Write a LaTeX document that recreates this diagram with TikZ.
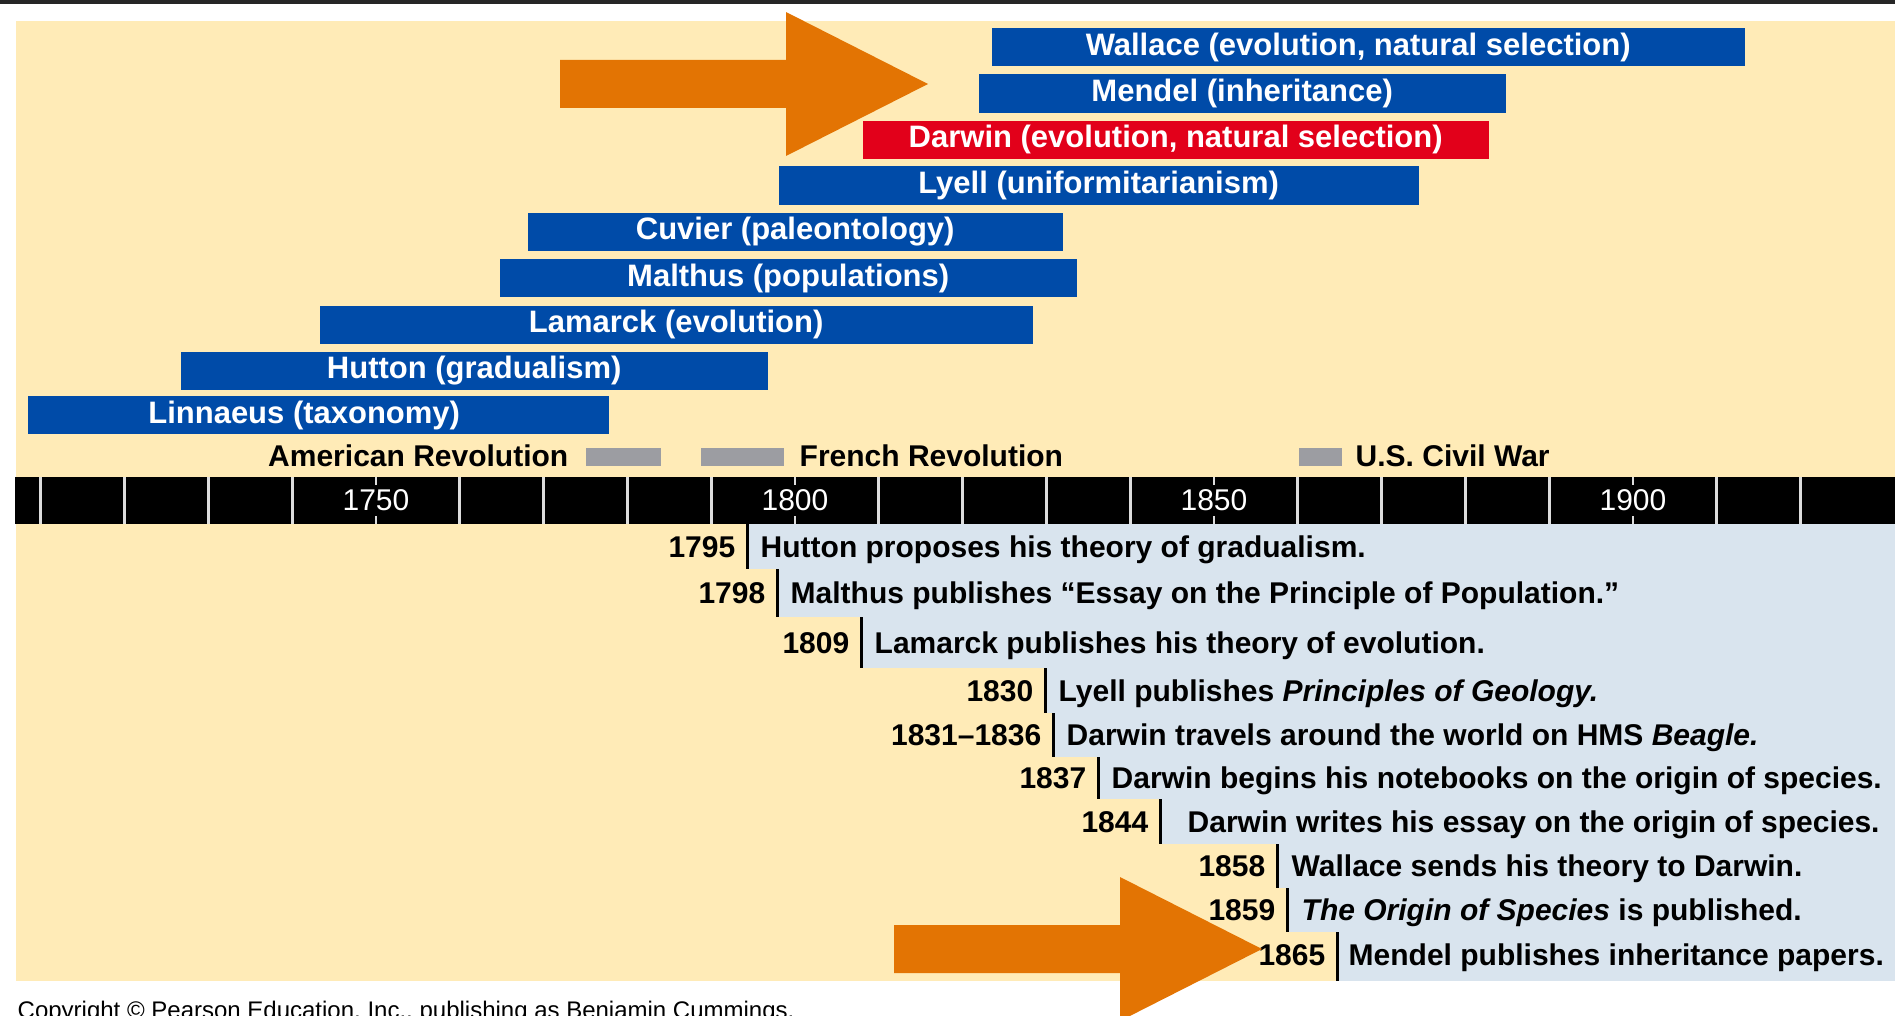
\documentclass[tikz,border=0pt]{standalone}
\usepackage{fontspec}
\setmainfont{Liberation Sans}
\usepackage{xcolor}
\usepackage{tikz}
\definecolor{creambg}{HTML}{FFEBB7}
\definecolor{barblue}{HTML}{004BA8}
\definecolor{barred}{HTML}{E2001A}
\definecolor{noteblue}{HTML}{D9E4EE}
\definecolor{wargray}{HTML}{9C9DA2}
\definecolor{arroworange}{HTML}{E37403}
\definecolor{tickgray}{HTML}{DDDDDD}
\definecolor{topline}{HTML}{262626}

\tikzset{
  lifebar/.style={rectangle, anchor=west, minimum height=0.38cm, inner sep=0pt, fill=barblue, text=white, font=\fontsize{0.31cm}{0.37cm}\selectfont\bfseries},
  warbar/.style={rectangle, anchor=west, minimum height=0.18cm, inner sep=0pt, fill=wargray},
  eventlabel/.style={inner sep=0pt, font=\fontsize{0.30cm}{0.36cm}\selectfont\bfseries},
  scalelabel/.style={inner sep=0pt, text=white, font=\fontsize{0.30cm}{0.36cm}\selectfont},
  decade/.style={draw=tickgray, line width=0.03cm},
  notebox/.style={fill=noteblue},
  stem/.style={draw=black, line width=0.03cm},
  yearlabel/.style={anchor=base east, inner sep=0pt, font=\fontsize{0.30cm}{0.36cm}\selectfont\bfseries},
  notelabel/.style={anchor=base west, inner sep=0pt, font=\fontsize{0.30cm}{0.36cm}\selectfont\bfseries}
}

\newcommand{\fatarrow}[1]{%
  \fill[arroworange] (#1) -- ++(-1.42,0.72) -- ++(0,-0.48) -- ++(-2.26,0) -- ++(0,-0.48) -- ++(2.26,0) -- ++(0,-0.48) -- cycle;}

\begin{document}
\begin{tikzpicture}%
\useasboundingbox (0,0) rectangle (18.95,-10.16);%
\fill[topline] (0,0) rectangle (18.95,-0.035);%
\fill[creambg] (0.16,-0.21) rectangle (18.95,-9.81);%
% life spans
\node[lifebar, minimum width=7.53cm] (wallace) at (9.91,-0.47) {Wallace (evolution, natural selection)\kern0.2cm};%
\node[lifebar, minimum width=5.27cm] (mendel) at (9.78,-0.935) {Mendel (inheritance)};%
\node[lifebar, minimum width=6.26cm, fill=barred] (darwin) at (8.62,-1.395) {Darwin (evolution, natural selection)};%
\node[lifebar, minimum width=6.40cm] (lyell) at (7.78,-1.855) {Lyell (uniformitarianism)};%
\node[lifebar, minimum width=5.35cm] (cuvier) at (5.27,-2.315) {Cuvier (paleontology)};%
\node[lifebar, minimum width=5.77cm] (malthus) at (4.99,-2.78) {Malthus (populations)};%
\node[lifebar, minimum width=7.13cm] (lamarck) at (3.19,-3.245) {Lamarck (evolution)};%
\node[lifebar, minimum width=5.87cm] (hutton) at (1.80,-3.705) {Hutton (gradualism)};%
\node[lifebar, minimum width=5.81cm] (linnaeus) at (0.27,-4.15) {Linnaeus (taxonomy)\kern0.28cm};%
% wars and revolutions
\node[warbar, minimum width=0.75cm] (amrevbar) at (5.85,-4.57) {};%
\node[warbar, minimum width=0.83cm] (frrevbar) at (7.00,-4.57) {};%
\node[warbar, minimum width=0.43cm] (civilbar) at (12.98,-4.57) {};%
\node[eventlabel, anchor=base east] (amrev) at (5.69,-4.66) {American Revolution};%
\node[eventlabel, anchor=base west] (frrev) at (7.99,-4.66) {French Revolution};%
\node[eventlabel, anchor=base west] (civil) at (13.55,-4.66) {U.S. Civil War};%
% time scale
\fill[black] (0.15,-4.77) rectangle (18.95,-5.24);%
\draw[decade] (0.408,-4.77) -- (0.408,-5.24);%
\draw[decade] (1.246,-4.77) -- (1.246,-5.24);%
\draw[decade] (2.084,-4.77) -- (2.084,-5.24);%
\draw[decade] (2.922,-4.77) -- (2.922,-5.24);%
\draw[decade] (4.598,-4.77) -- (4.598,-5.24);%
\draw[decade] (5.436,-4.77) -- (5.436,-5.24);%
\draw[decade] (6.274,-4.77) -- (6.274,-5.24);%
\draw[decade] (7.112,-4.77) -- (7.112,-5.24);%
\draw[decade] (8.788,-4.77) -- (8.788,-5.24);%
\draw[decade] (9.626,-4.77) -- (9.626,-5.24);%
\draw[decade] (10.464,-4.77) -- (10.464,-5.24);%
\draw[decade] (11.302,-4.77) -- (11.302,-5.24);%
\draw[decade] (12.978,-4.77) -- (12.978,-5.24);%
\draw[decade] (13.816,-4.77) -- (13.816,-5.24);%
\draw[decade] (14.654,-4.77) -- (14.654,-5.24);%
\draw[decade] (15.492,-4.77) -- (15.492,-5.24);%
\draw[decade] (17.168,-4.77) -- (17.168,-5.24);%
\draw[decade] (18.006,-4.77) -- (18.006,-5.24);%
\draw[decade, line width=0.02cm] (3.76,-4.77) -- (3.76,-4.85) (3.76,-5.16) -- (3.76,-5.24);%
\draw[decade, line width=0.02cm] (7.95,-4.77) -- (7.95,-4.85) (7.95,-5.16) -- (7.95,-5.24);%
\draw[decade, line width=0.02cm] (12.14,-4.77) -- (12.14,-4.85) (12.14,-5.16) -- (12.14,-5.24);%
\draw[decade, line width=0.02cm] (16.33,-4.77) -- (16.33,-4.85) (16.33,-5.16) -- (16.33,-5.24);%
\node[scalelabel] (s1750) at (3.76,-5.005) {1750};%
\node[scalelabel] (s1800) at (7.95,-5.005) {1800};%
\node[scalelabel] (s1850) at (12.14,-5.005) {1850};%
\node[scalelabel] (s1900) at (16.33,-5.005) {1900};%
% dated notes
\fill[notebox] (7.47,-5.24) rectangle (18.95,-5.69);%
\fill[notebox] (7.77,-5.69) rectangle (18.95,-6.17);%
\fill[notebox] (8.61,-6.17) rectangle (18.95,-6.68);%
\fill[notebox] (10.45,-6.68) rectangle (18.95,-7.13);%
\fill[notebox] (10.53,-7.13) rectangle (18.95,-7.57);%
\fill[notebox] (10.98,-7.57) rectangle (18.95,-7.99);%
\fill[notebox] (11.60,-7.99) rectangle (18.95,-8.44);%
\fill[notebox] (12.77,-8.44) rectangle (18.95,-8.88);%
\fill[notebox] (12.87,-8.88) rectangle (18.95,-9.32);%
\fill[notebox] (13.37,-9.32) rectangle (18.95,-9.81);%
\draw[stem] (7.47,-5.24) -- (7.47,-5.69);%
\draw[stem] (7.77,-5.69) -- (7.77,-6.17);%
\draw[stem] (8.61,-6.17) -- (8.61,-6.68);%
\draw[stem] (10.45,-6.68) -- (10.45,-7.13);%
\draw[stem] (10.53,-7.13) -- (10.53,-7.57);%
\draw[stem] (10.98,-7.57) -- (10.98,-7.99);%
\draw[stem] (11.60,-7.99) -- (11.60,-8.44);%
\draw[stem] (12.77,-8.44) -- (12.77,-8.88);%
\draw[stem] (12.87,-8.88) -- (12.87,-9.32);%
\draw[stem] (13.37,-9.32) -- (13.37,-9.81);%
\node[yearlabel] (y1795) at (7.36,-5.57) {1795};%
\node[notelabel] (n1795) at (7.60,-5.57) {Hutton proposes his theory of gradualism.};%
\node[yearlabel] (y1798) at (7.66,-6.035) {1798};%
\node[notelabel] (n1798) at (7.90,-6.035) {Malthus publishes “Essay on the Principle of Population.”};%
\node[yearlabel] (y1809) at (8.50,-6.53) {1809};%
\node[notelabel] (n1809) at (8.74,-6.53) {Lamarck publishes his theory of evolution.};%
\node[yearlabel] (y1830) at (10.34,-7.015) {1830};%
\node[notelabel] (n1830) at (10.58,-7.015) {Lyell publishes \textit{Principles of Geology.}};%
\node[yearlabel] (y1831) at (10.42,-7.455) {1831–1836};%
\node[notelabel] (n1831) at (10.66,-7.455) {Darwin travels around the world on HMS \textit{Beagle.}};%
\node[yearlabel] (y1837) at (10.87,-7.885) {1837};%
\node[notelabel] (n1837) at (11.11,-7.885) {Darwin begins his notebooks on the origin of species.};%
\node[yearlabel] (y1844) at (11.49,-8.32) {1844};%
\node[notelabel] (n1844) at (11.87,-8.32) {Darwin writes his essay on the origin of species.};%
\node[yearlabel] (y1858) at (12.66,-8.765) {1858};%
\node[notelabel] (n1858) at (12.91,-8.765) {Wallace sends his theory to Darwin.};%
\node[yearlabel] (y1859) at (12.76,-9.20) {1859};%
\node[notelabel] (n1859) at (13.01,-9.20) {\textit{The Origin of Species} is published.};%
\node[yearlabel] (y1865) at (13.26,-9.655) {1865};%
\node[notelabel] (n1865) at (13.48,-9.655) {Mendel publishes inheritance papers.};%
% pointers
\coordinate (toptip) at (9.28,-0.84);%
\coordinate (lowtip) at (12.62,-9.49);%
\fatarrow{toptip}%
\fatarrow{lowtip}%
\node[anchor=base west, inner sep=0pt, font=\fontsize{0.24cm}{0.29cm}\selectfont] (copyright) at (0.17,-10.18) {Copyright © Pearson Education, Inc., publishing as Benjamin Cummings.};%
\end{tikzpicture}
\end{document}
